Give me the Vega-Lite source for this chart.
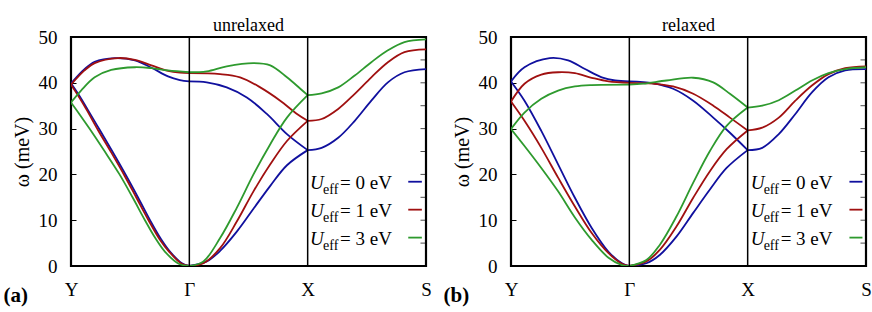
{
"$schema":"https://vega.github.io/schema/vega-lite/v6.json",
"padding":{"left":1,"right":4,"top":15,"bottom":2},
"spacing":8,
"config":{
 "font":"Liberation Serif",
 "view":{"stroke":"black","strokeWidth":2.2},
 "axis":{"labelColor":"black","titleColor":"black","tickColor":"black","labelFont":"Liberation Serif","titleFont":"Liberation Serif","grid":false,"domain":false},
 "title":{"font":"Liberation Serif","fontSize":18,"fontWeight":"normal","color":"black","offset":-3,"dy":4}
},
"datasets":{"bands":[
{"panel":"unrelaxed","U":"0","seg":"A","q":0,"w":39.9},{"panel":"unrelaxed","U":"0","seg":"A","q":0.114,"w":43.0},{"panel":"unrelaxed","U":"0","seg":"A","q":0.2,"w":44.6},{"panel":"unrelaxed","U":"0","seg":"A","q":0.37,"w":45.4},{"panel":"unrelaxed","U":"0","seg":"A","q":0.54,"w":44.9},{"panel":"unrelaxed","U":"0","seg":"A","q":0.68,"w":43.3},{"panel":"unrelaxed","U":"0","seg":"A","q":0.82,"w":41.4},{"panel":"unrelaxed","U":"0","seg":"A","q":0.92,"w":40.6},{"panel":"unrelaxed","U":"0","seg":"A","q":1,"w":40.3},
{"panel":"unrelaxed","U":"0","seg":"B","q":0,"w":39.9},{"panel":"unrelaxed","U":"0","seg":"B","q":0.06,"w":37.6},{"panel":"unrelaxed","U":"0","seg":"B","q":0.14,"w":34.2},{"panel":"unrelaxed","U":"0","seg":"B","q":0.241,"w":29.8},{"panel":"unrelaxed","U":"0","seg":"B","q":0.35,"w":25.0},{"panel":"unrelaxed","U":"0","seg":"B","q":0.469,"w":19.6},{"panel":"unrelaxed","U":"0","seg":"B","q":0.57,"w":14.8},{"panel":"unrelaxed","U":"0","seg":"B","q":0.668,"w":10.0},{"panel":"unrelaxed","U":"0","seg":"B","q":0.76,"w":5.9},{"panel":"unrelaxed","U":"0","seg":"B","q":0.838,"w":3.1},{"panel":"unrelaxed","U":"0","seg":"B","q":0.9375,"w":0.6},{"panel":"unrelaxed","U":"0","seg":"B","q":1,"w":0},
{"panel":"unrelaxed","U":"0","seg":"C","q":1,"w":40.3},{"panel":"unrelaxed","U":"0","seg":"C","q":1.147,"w":40.1},{"panel":"unrelaxed","U":"0","seg":"C","q":1.316,"w":39.0},{"panel":"unrelaxed","U":"0","seg":"C","q":1.486,"w":36.8},{"panel":"unrelaxed","U":"0","seg":"C","q":1.655,"w":33.2},{"panel":"unrelaxed","U":"0","seg":"C","q":1.825,"w":28.8},{"panel":"unrelaxed","U":"0","seg":"C","q":2,"w":25.3},
{"panel":"unrelaxed","U":"0","seg":"D","q":1,"w":0},{"panel":"unrelaxed","U":"0","seg":"D","q":1.147,"w":1.0},{"panel":"unrelaxed","U":"0","seg":"D","q":1.26,"w":3.3},{"panel":"unrelaxed","U":"0","seg":"D","q":1.401,"w":7.5},{"panel":"unrelaxed","U":"0","seg":"D","q":1.542,"w":12.5},{"panel":"unrelaxed","U":"0","seg":"D","q":1.684,"w":17.5},{"panel":"unrelaxed","U":"0","seg":"D","q":1.825,"w":22.0},{"panel":"unrelaxed","U":"0","seg":"D","q":2,"w":25.3},
{"panel":"unrelaxed","U":"0","seg":"E","q":2,"w":25.3},{"panel":"unrelaxed","U":"0","seg":"E","q":2.118,"w":25.8},{"panel":"unrelaxed","U":"0","seg":"E","q":2.258,"w":28.0},{"panel":"unrelaxed","U":"0","seg":"E","q":2.398,"w":31.7},{"panel":"unrelaxed","U":"0","seg":"E","q":2.538,"w":36.1},{"panel":"unrelaxed","U":"0","seg":"E","q":2.678,"w":40.1},{"panel":"unrelaxed","U":"0","seg":"E","q":2.818,"w":42.3},{"panel":"unrelaxed","U":"0","seg":"E","q":3,"w":43.0},
{"panel":"unrelaxed","U":"1","seg":"A","q":0,"w":39.6},{"panel":"unrelaxed","U":"1","seg":"A","q":0.114,"w":42.7},{"panel":"unrelaxed","U":"1","seg":"A","q":0.2,"w":44.3},{"panel":"unrelaxed","U":"1","seg":"A","q":0.4,"w":45.4},{"panel":"unrelaxed","U":"1","seg":"A","q":0.54,"w":45.0},{"panel":"unrelaxed","U":"1","seg":"A","q":0.68,"w":43.8},{"panel":"unrelaxed","U":"1","seg":"A","q":0.82,"w":42.6},{"panel":"unrelaxed","U":"1","seg":"A","q":0.92,"w":42.2},{"panel":"unrelaxed","U":"1","seg":"A","q":1,"w":42.1},
{"panel":"unrelaxed","U":"1","seg":"B","q":0,"w":39.6},{"panel":"unrelaxed","U":"1","seg":"B","q":0.06,"w":37.2},{"panel":"unrelaxed","U":"1","seg":"B","q":0.13,"w":34.2},{"panel":"unrelaxed","U":"1","seg":"B","q":0.23,"w":29.6},{"panel":"unrelaxed","U":"1","seg":"B","q":0.34,"w":24.8},{"panel":"unrelaxed","U":"1","seg":"B","q":0.455,"w":19.6},{"panel":"unrelaxed","U":"1","seg":"B","q":0.555,"w":14.8},{"panel":"unrelaxed","U":"1","seg":"B","q":0.655,"w":10.0},{"panel":"unrelaxed","U":"1","seg":"B","q":0.75,"w":5.8},{"panel":"unrelaxed","U":"1","seg":"B","q":0.83,"w":3.1},{"panel":"unrelaxed","U":"1","seg":"B","q":0.935,"w":0.5},{"panel":"unrelaxed","U":"1","seg":"B","q":1,"w":0},
{"panel":"unrelaxed","U":"1","seg":"C","q":1,"w":42.1},{"panel":"unrelaxed","U":"1","seg":"C","q":1.26,"w":41.9},{"panel":"unrelaxed","U":"1","seg":"C","q":1.429,"w":41.2},{"panel":"unrelaxed","U":"1","seg":"C","q":1.599,"w":39.0},{"panel":"unrelaxed","U":"1","seg":"C","q":1.768,"w":36.1},{"panel":"unrelaxed","U":"1","seg":"C","q":1.91,"w":33.2},{"panel":"unrelaxed","U":"1","seg":"C","q":2,"w":31.7},
{"panel":"unrelaxed","U":"1","seg":"D","q":1,"w":0},{"panel":"unrelaxed","U":"1","seg":"D","q":1.119,"w":0.6},{"panel":"unrelaxed","U":"1","seg":"D","q":1.26,"w":3.9},{"panel":"unrelaxed","U":"1","seg":"D","q":1.401,"w":9.7},{"panel":"unrelaxed","U":"1","seg":"D","q":1.542,"w":16.3},{"panel":"unrelaxed","U":"1","seg":"D","q":1.684,"w":22.2},{"panel":"unrelaxed","U":"1","seg":"D","q":1.825,"w":27.3},{"panel":"unrelaxed","U":"1","seg":"D","q":2,"w":31.7},
{"panel":"unrelaxed","U":"1","seg":"E","q":2,"w":31.7},{"panel":"unrelaxed","U":"1","seg":"E","q":2.118,"w":32.1},{"panel":"unrelaxed","U":"1","seg":"E","q":2.258,"w":34.3},{"panel":"unrelaxed","U":"1","seg":"E","q":2.398,"w":37.6},{"panel":"unrelaxed","U":"1","seg":"E","q":2.538,"w":41.2},{"panel":"unrelaxed","U":"1","seg":"E","q":2.678,"w":44.5},{"panel":"unrelaxed","U":"1","seg":"E","q":2.818,"w":46.7},{"panel":"unrelaxed","U":"1","seg":"E","q":3,"w":47.3},
{"panel":"unrelaxed","U":"3","seg":"A","q":0,"w":35.7},{"panel":"unrelaxed","U":"3","seg":"A","q":0.085,"w":38.3},{"panel":"unrelaxed","U":"3","seg":"A","q":0.2,"w":41.2},{"panel":"unrelaxed","U":"3","seg":"A","q":0.34,"w":42.8},{"panel":"unrelaxed","U":"3","seg":"A","q":0.54,"w":43.4},{"panel":"unrelaxed","U":"3","seg":"A","q":0.68,"w":43.2},{"panel":"unrelaxed","U":"3","seg":"A","q":0.82,"w":42.7},{"panel":"unrelaxed","U":"3","seg":"A","q":1,"w":42.3},
{"panel":"unrelaxed","U":"3","seg":"B","q":0,"w":35.7},{"panel":"unrelaxed","U":"3","seg":"B","q":0.07,"w":33.2},{"panel":"unrelaxed","U":"3","seg":"B","q":0.156,"w":30.0},{"panel":"unrelaxed","U":"3","seg":"B","q":0.28,"w":25.2},{"panel":"unrelaxed","U":"3","seg":"B","q":0.41,"w":20.0},{"panel":"unrelaxed","U":"3","seg":"B","q":0.52,"w":15.0},{"panel":"unrelaxed","U":"3","seg":"B","q":0.625,"w":10.0},{"panel":"unrelaxed","U":"3","seg":"B","q":0.715,"w":6.0},{"panel":"unrelaxed","U":"3","seg":"B","q":0.795,"w":3.1},{"panel":"unrelaxed","U":"3","seg":"B","q":0.91,"w":0.5},{"panel":"unrelaxed","U":"3","seg":"B","q":1,"w":0},
{"panel":"unrelaxed","U":"3","seg":"C","q":1,"w":42.3},{"panel":"unrelaxed","U":"3","seg":"C","q":1.147,"w":42.5},{"panel":"unrelaxed","U":"3","seg":"C","q":1.316,"w":43.6},{"panel":"unrelaxed","U":"3","seg":"C","q":1.542,"w":44.3},{"panel":"unrelaxed","U":"3","seg":"C","q":1.684,"w":43.8},{"panel":"unrelaxed","U":"3","seg":"C","q":1.825,"w":41.2},{"panel":"unrelaxed","U":"3","seg":"C","q":1.938,"w":38.7},{"panel":"unrelaxed","U":"3","seg":"C","q":2,"w":37.3},
{"panel":"unrelaxed","U":"3","seg":"D","q":1,"w":0},{"panel":"unrelaxed","U":"3","seg":"D","q":1.119,"w":1.0},{"panel":"unrelaxed","U":"3","seg":"D","q":1.26,"w":6.1},{"panel":"unrelaxed","U":"3","seg":"D","q":1.401,"w":12.7},{"panel":"unrelaxed","U":"3","seg":"D","q":1.542,"w":20.0},{"panel":"unrelaxed","U":"3","seg":"D","q":1.684,"w":26.6},{"panel":"unrelaxed","U":"3","seg":"D","q":1.825,"w":32.4},{"panel":"unrelaxed","U":"3","seg":"D","q":2,"w":37.3},
{"panel":"unrelaxed","U":"3","seg":"E","q":2,"w":37.3},{"panel":"unrelaxed","U":"3","seg":"E","q":2.118,"w":37.7},{"panel":"unrelaxed","U":"3","seg":"E","q":2.258,"w":39.0},{"panel":"unrelaxed","U":"3","seg":"E","q":2.398,"w":41.6},{"panel":"unrelaxed","U":"3","seg":"E","q":2.538,"w":44.5},{"panel":"unrelaxed","U":"3","seg":"E","q":2.678,"w":47.1},{"panel":"unrelaxed","U":"3","seg":"E","q":2.818,"w":48.9},{"panel":"unrelaxed","U":"3","seg":"E","q":3,"w":49.5},
{"panel":"relaxed","U":"0","seg":"A","q":0,"w":40.3},{"panel":"relaxed","U":"0","seg":"A","q":0.114,"w":43.4},{"panel":"relaxed","U":"0","seg":"A","q":0.327,"w":45.4},{"panel":"relaxed","U":"0","seg":"A","q":0.483,"w":44.9},{"panel":"relaxed","U":"0","seg":"A","q":0.625,"w":43.0},{"panel":"relaxed","U":"0","seg":"A","q":0.767,"w":41.2},{"panel":"relaxed","U":"0","seg":"A","q":0.88,"w":40.5},{"panel":"relaxed","U":"0","seg":"A","q":1,"w":40.3},
{"panel":"relaxed","U":"0","seg":"B","q":0,"w":40.3},{"panel":"relaxed","U":"0","seg":"B","q":0.114,"w":36.1},{"panel":"relaxed","U":"0","seg":"B","q":0.256,"w":29.5},{"panel":"relaxed","U":"0","seg":"B","q":0.398,"w":22.2},{"panel":"relaxed","U":"0","seg":"B","q":0.54,"w":14.9},{"panel":"relaxed","U":"0","seg":"B","q":0.682,"w":8.3},{"panel":"relaxed","U":"0","seg":"B","q":0.824,"w":3.1},{"panel":"relaxed","U":"0","seg":"B","q":0.9375,"w":0.6},{"panel":"relaxed","U":"0","seg":"B","q":1,"w":0},
{"panel":"relaxed","U":"0","seg":"C","q":1,"w":40.3},{"panel":"relaxed","U":"0","seg":"C","q":1.2,"w":39.9},{"panel":"relaxed","U":"0","seg":"C","q":1.37,"w":38.7},{"panel":"relaxed","U":"0","seg":"C","q":1.54,"w":36.1},{"panel":"relaxed","U":"0","seg":"C","q":1.709,"w":32.4},{"panel":"relaxed","U":"0","seg":"C","q":1.85,"w":29.1},{"panel":"relaxed","U":"0","seg":"C","q":2,"w":25.3},
{"panel":"relaxed","U":"0","seg":"D","q":1,"w":0},{"panel":"relaxed","U":"0","seg":"D","q":1.144,"w":0.6},{"panel":"relaxed","U":"0","seg":"D","q":1.257,"w":2.4},{"panel":"relaxed","U":"0","seg":"D","q":1.398,"w":6.4},{"panel":"relaxed","U":"0","seg":"D","q":1.54,"w":11.6},{"panel":"relaxed","U":"0","seg":"D","q":1.681,"w":16.7},{"panel":"relaxed","U":"0","seg":"D","q":1.822,"w":21.4},{"panel":"relaxed","U":"0","seg":"D","q":2,"w":25.3},
{"panel":"relaxed","U":"0","seg":"E","q":2,"w":25.3},{"panel":"relaxed","U":"0","seg":"E","q":2.123,"w":25.8},{"panel":"relaxed","U":"0","seg":"E","q":2.263,"w":28.8},{"panel":"relaxed","U":"0","seg":"E","q":2.403,"w":33.2},{"panel":"relaxed","U":"0","seg":"E","q":2.543,"w":37.9},{"panel":"relaxed","U":"0","seg":"E","q":2.683,"w":41.2},{"panel":"relaxed","U":"0","seg":"E","q":2.824,"w":42.7},{"panel":"relaxed","U":"0","seg":"E","q":3,"w":43.0},
{"panel":"relaxed","U":"1","seg":"A","q":0,"w":35.9},{"panel":"relaxed","U":"1","seg":"A","q":0.114,"w":39.8},{"panel":"relaxed","U":"1","seg":"A","q":0.256,"w":41.8},{"panel":"relaxed","U":"1","seg":"A","q":0.398,"w":42.3},{"panel":"relaxed","U":"1","seg":"A","q":0.54,"w":42.1},{"panel":"relaxed","U":"1","seg":"A","q":0.682,"w":41.1},{"panel":"relaxed","U":"1","seg":"A","q":0.824,"w":40.3},{"panel":"relaxed","U":"1","seg":"A","q":1,"w":40.0},
{"panel":"relaxed","U":"1","seg":"B","q":0,"w":35.9},{"panel":"relaxed","U":"1","seg":"B","q":0.114,"w":31.7},{"panel":"relaxed","U":"1","seg":"B","q":0.256,"w":25.8},{"panel":"relaxed","U":"1","seg":"B","q":0.398,"w":19.3},{"panel":"relaxed","U":"1","seg":"B","q":0.54,"w":13.0},{"panel":"relaxed","U":"1","seg":"B","q":0.682,"w":7.2},{"panel":"relaxed","U":"1","seg":"B","q":0.824,"w":2.8},{"panel":"relaxed","U":"1","seg":"B","q":0.9375,"w":0.5},{"panel":"relaxed","U":"1","seg":"B","q":1,"w":0},
{"panel":"relaxed","U":"1","seg":"C","q":1,"w":40.0},{"panel":"relaxed","U":"1","seg":"C","q":1.2,"w":39.8},{"panel":"relaxed","U":"1","seg":"C","q":1.37,"w":39.2},{"panel":"relaxed","U":"1","seg":"C","q":1.54,"w":37.6},{"panel":"relaxed","U":"1","seg":"C","q":1.709,"w":35.0},{"panel":"relaxed","U":"1","seg":"C","q":1.85,"w":32.4},{"panel":"relaxed","U":"1","seg":"C","q":2,"w":29.6},
{"panel":"relaxed","U":"1","seg":"D","q":1,"w":0},{"panel":"relaxed","U":"1","seg":"D","q":1.144,"w":1.0},{"panel":"relaxed","U":"1","seg":"D","q":1.257,"w":3.5},{"panel":"relaxed","U":"1","seg":"D","q":1.398,"w":8.6},{"panel":"relaxed","U":"1","seg":"D","q":1.54,"w":14.9},{"panel":"relaxed","U":"1","seg":"D","q":1.681,"w":20.7},{"panel":"relaxed","U":"1","seg":"D","q":1.822,"w":25.5},{"panel":"relaxed","U":"1","seg":"D","q":2,"w":29.6},
{"panel":"relaxed","U":"1","seg":"E","q":2,"w":29.6},{"panel":"relaxed","U":"1","seg":"E","q":2.123,"w":30.2},{"panel":"relaxed","U":"1","seg":"E","q":2.263,"w":32.4},{"panel":"relaxed","U":"1","seg":"E","q":2.403,"w":36.1},{"panel":"relaxed","U":"1","seg":"E","q":2.543,"w":39.4},{"panel":"relaxed","U":"1","seg":"E","q":2.683,"w":41.9},{"panel":"relaxed","U":"1","seg":"E","q":2.824,"w":43.2},{"panel":"relaxed","U":"1","seg":"E","q":3,"w":43.6},
{"panel":"relaxed","U":"3","seg":"A","q":0,"w":29.9},{"panel":"relaxed","U":"3","seg":"A","q":0.114,"w":33.5},{"panel":"relaxed","U":"3","seg":"A","q":0.256,"w":36.5},{"panel":"relaxed","U":"3","seg":"A","q":0.398,"w":38.3},{"panel":"relaxed","U":"3","seg":"A","q":0.54,"w":39.2},{"panel":"relaxed","U":"3","seg":"A","q":0.682,"w":39.5},{"panel":"relaxed","U":"3","seg":"A","q":1,"w":39.6},
{"panel":"relaxed","U":"3","seg":"B","q":0,"w":29.9},{"panel":"relaxed","U":"3","seg":"B","q":0.114,"w":26.2},{"panel":"relaxed","U":"3","seg":"B","q":0.256,"w":21.4},{"panel":"relaxed","U":"3","seg":"B","q":0.398,"w":16.3},{"panel":"relaxed","U":"3","seg":"B","q":0.54,"w":10.6},{"panel":"relaxed","U":"3","seg":"B","q":0.682,"w":5.7},{"panel":"relaxed","U":"3","seg":"B","q":0.824,"w":1.8},{"panel":"relaxed","U":"3","seg":"B","q":0.9375,"w":0.2},{"panel":"relaxed","U":"3","seg":"B","q":1,"w":0},
{"panel":"relaxed","U":"3","seg":"C","q":1,"w":39.6},{"panel":"relaxed","U":"3","seg":"C","q":1.116,"w":39.8},{"panel":"relaxed","U":"3","seg":"C","q":1.314,"w":40.5},{"panel":"relaxed","U":"3","seg":"C","q":1.54,"w":41.1},{"panel":"relaxed","U":"3","seg":"C","q":1.709,"w":40.1},{"panel":"relaxed","U":"3","seg":"C","q":1.85,"w":37.6},{"panel":"relaxed","U":"3","seg":"C","q":2,"w":34.6},
{"panel":"relaxed","U":"3","seg":"D","q":1,"w":0},{"panel":"relaxed","U":"3","seg":"D","q":1.144,"w":1.3},{"panel":"relaxed","U":"3","seg":"D","q":1.257,"w":4.6},{"panel":"relaxed","U":"3","seg":"D","q":1.398,"w":10.8},{"panel":"relaxed","U":"3","seg":"D","q":1.54,"w":18.2},{"panel":"relaxed","U":"3","seg":"D","q":1.681,"w":25.1},{"panel":"relaxed","U":"3","seg":"D","q":1.822,"w":30.6},{"panel":"relaxed","U":"3","seg":"D","q":2,"w":34.6},
{"panel":"relaxed","U":"3","seg":"E","q":2,"w":34.6},{"panel":"relaxed","U":"3","seg":"E","q":2.123,"w":35.0},{"panel":"relaxed","U":"3","seg":"E","q":2.263,"w":36.2},{"panel":"relaxed","U":"3","seg":"E","q":2.403,"w":38.3},{"panel":"relaxed","U":"3","seg":"E","q":2.543,"w":40.5},{"panel":"relaxed","U":"3","seg":"E","q":2.683,"w":42.1},{"panel":"relaxed","U":"3","seg":"E","q":2.824,"w":43.0},{"panel":"relaxed","U":"3","seg":"E","q":3,"w":43.4}
],
"ticks":[{"t":5},{"t":10},{"t":15},{"t":20},{"t":25},{"t":30},{"t":35},{"t":40},{"t":45}]
},
"hconcat":[
{
 "width":355,"height":229,
 "title":{"text":"unrelaxed"},
 "layer":[
  {"data":{"name":"bands"},"transform":[{"filter":"datum.panel == 'unrelaxed'"}],
   "mark":{"type":"line","interpolate":"catmull-rom","strokeWidth":1.8,"clip":true},
   "encoding":{
    "x":{"field":"q","type":"quantitative","scale":{"domain":[0,3],"nice":false,"zero":false},
      "axis":{"orient":"bottom","values":[0,1,2,3],"labelExpr":"['Y','Γ','X','S'][datum.value]","ticks":false,"labelPadding":14,"labelFont":"Liberation Serif","labelFontSize":19,"labelFlush":false,"labelOverlap":false,
        "title":"(a)","titleFont":"Liberation Serif","titleFontWeight":"bold","titleFontSize":21,"titleAnchor":"start","titleAlign":"left","titleX":-68,"titleY":35,"titleBaseline":"alphabetic"}},
    "y":{"field":"w","type":"quantitative","scale":{"domain":[0,50],"nice":false},
      "axis":{"orient":"left","values":[0,5,10,15,20,25,30,35,40,45,50],"labelExpr":"datum.value % 10 == 0 ? datum.label : ''","tickSize":-5,"labelPadding":19,"labelFont":"Liberation Serif","labelFontSize":19,"labelOverlap":false,
        "title":"ω (meV)","titleFont":"Liberation Serif","titleFontSize":20,"titleFontWeight":"normal","titlePadding":6}},
    "color":{"field":"U","type":"nominal","scale":{"domain":["0","1","3"],"range":["#10109e","#a01010","#2e9a2e"]},"legend":null},
    "detail":{"field":"seg"}
   }},
  {"data":{"values":[{"q":1},{"q":2}]},"mark":{"type":"rule","color":"black","strokeWidth":1.5},"encoding":{"x":{"field":"q","type":"quantitative"}}},
  {"data":{"name":"ticks"},"mark":{"type":"tick","orient":"horizontal","color":"black","size":5,"thickness":1,"xOffset":-3},
   "encoding":{"x":{"datum":3,"type":"quantitative"},"y":{"field":"t","type":"quantitative"}}},
  {"data":{"values":[{}]},"mark":{"type":"text","text":["U","U","U"],"font":"Liberation Serif","fontStyle":"italic","fontSize":19,"align":"left","baseline":"alphabetic","lineHeight":28,"color":"black"},
   "encoding":{"x":{"datum":2.02,"type":"quantitative"},"y":{"datum":16.8,"type":"quantitative"}}},
  {"data":{"values":[{}]},"mark":{"type":"text","text":["eff","eff","eff"],"font":"Liberation Serif","fontSize":14,"align":"left","baseline":"alphabetic","lineHeight":28,"dx":13,"dy":5,"color":"black"},
   "encoding":{"x":{"datum":2.02,"type":"quantitative"},"y":{"datum":16.8,"type":"quantitative"}}},
  {"data":{"values":[{}]},"mark":{"type":"text","text":["= 0 eV","= 1 eV","= 3 eV"],"font":"Liberation Serif","fontSize":19,"align":"left","baseline":"alphabetic","lineHeight":28,"dx":30,"color":"black"},
   "encoding":{"x":{"datum":2.02,"type":"quantitative"},"y":{"datum":16.8,"type":"quantitative"}}},
  {"data":{"values":[{}]},"mark":{"type":"rule","color":"#10109e","strokeWidth":1.8},
   "encoding":{"x":{"datum":2.85,"type":"quantitative"},"x2":{"datum":2.965},"y":{"datum":18.4,"type":"quantitative"}}},
  {"data":{"values":[{}]},"mark":{"type":"rule","color":"#a01010","strokeWidth":1.8},
   "encoding":{"x":{"datum":2.85,"type":"quantitative"},"x2":{"datum":2.965},"y":{"datum":12.3,"type":"quantitative"}}},
  {"data":{"values":[{}]},"mark":{"type":"rule","color":"#2e9a2e","strokeWidth":1.8},
   "encoding":{"x":{"datum":2.85,"type":"quantitative"},"x2":{"datum":2.965},"y":{"datum":6.2,"type":"quantitative"}}}
 ]
},
{
 "width":355,"height":229,
 "title":{"text":"relaxed"},
 "layer":[
  {"data":{"name":"bands"},"transform":[{"filter":"datum.panel == 'relaxed'"}],
   "mark":{"type":"line","interpolate":"catmull-rom","strokeWidth":1.8,"clip":true},
   "encoding":{
    "x":{"field":"q","type":"quantitative","scale":{"domain":[0,3],"nice":false,"zero":false},
      "axis":{"orient":"bottom","values":[0,1,2,3],"labelExpr":"['Y','Γ','X','S'][datum.value]","ticks":false,"labelPadding":14,"labelFont":"Liberation Serif","labelFontSize":19,"labelFlush":false,"labelOverlap":false,
        "title":"(b)","titleFont":"Liberation Serif","titleFontWeight":"bold","titleFontSize":21,"titleAnchor":"start","titleAlign":"left","titleX":-68,"titleY":35,"titleBaseline":"alphabetic"}},
    "y":{"field":"w","type":"quantitative","scale":{"domain":[0,50],"nice":false},
      "axis":{"orient":"left","values":[0,5,10,15,20,25,30,35,40,45,50],"labelExpr":"datum.value % 10 == 0 ? datum.label : ''","tickSize":-5,"labelPadding":19,"labelFont":"Liberation Serif","labelFontSize":19,"labelOverlap":false,
        "title":"ω (meV)","titleFont":"Liberation Serif","titleFontSize":20,"titleFontWeight":"normal","titlePadding":6}},
    "color":{"field":"U","type":"nominal","scale":{"domain":["0","1","3"],"range":["#10109e","#a01010","#2e9a2e"]},"legend":null},
    "detail":{"field":"seg"}
   }},
  {"data":{"values":[{"q":1},{"q":2}]},"mark":{"type":"rule","color":"black","strokeWidth":1.5},"encoding":{"x":{"field":"q","type":"quantitative"}}},
  {"data":{"name":"ticks"},"mark":{"type":"tick","orient":"horizontal","color":"black","size":5,"thickness":1,"xOffset":-3},
   "encoding":{"x":{"datum":3,"type":"quantitative"},"y":{"field":"t","type":"quantitative"}}},
  {"data":{"values":[{}]},"mark":{"type":"text","text":["U","U","U"],"font":"Liberation Serif","fontStyle":"italic","fontSize":19,"align":"left","baseline":"alphabetic","lineHeight":28,"color":"black"},
   "encoding":{"x":{"datum":2.025,"type":"quantitative"},"y":{"datum":16.8,"type":"quantitative"}}},
  {"data":{"values":[{}]},"mark":{"type":"text","text":["eff","eff","eff"],"font":"Liberation Serif","fontSize":14,"align":"left","baseline":"alphabetic","lineHeight":28,"dx":13,"dy":5,"color":"black"},
   "encoding":{"x":{"datum":2.025,"type":"quantitative"},"y":{"datum":16.8,"type":"quantitative"}}},
  {"data":{"values":[{}]},"mark":{"type":"text","text":["= 0 eV","= 1 eV","= 3 eV"],"font":"Liberation Serif","fontSize":19,"align":"left","baseline":"alphabetic","lineHeight":28,"dx":30,"color":"black"},
   "encoding":{"x":{"datum":2.025,"type":"quantitative"},"y":{"datum":16.8,"type":"quantitative"}}},
  {"data":{"values":[{}]},"mark":{"type":"rule","color":"#10109e","strokeWidth":1.8},
   "encoding":{"x":{"datum":2.86,"type":"quantitative"},"x2":{"datum":2.97},"y":{"datum":18.4,"type":"quantitative"}}},
  {"data":{"values":[{}]},"mark":{"type":"rule","color":"#a01010","strokeWidth":1.8},
   "encoding":{"x":{"datum":2.86,"type":"quantitative"},"x2":{"datum":2.97},"y":{"datum":12.3,"type":"quantitative"}}},
  {"data":{"values":[{}]},"mark":{"type":"rule","color":"#2e9a2e","strokeWidth":1.8},
   "encoding":{"x":{"datum":2.86,"type":"quantitative"},"x2":{"datum":2.97},"y":{"datum":6.2,"type":"quantitative"}}}
 ]
}
]
}
